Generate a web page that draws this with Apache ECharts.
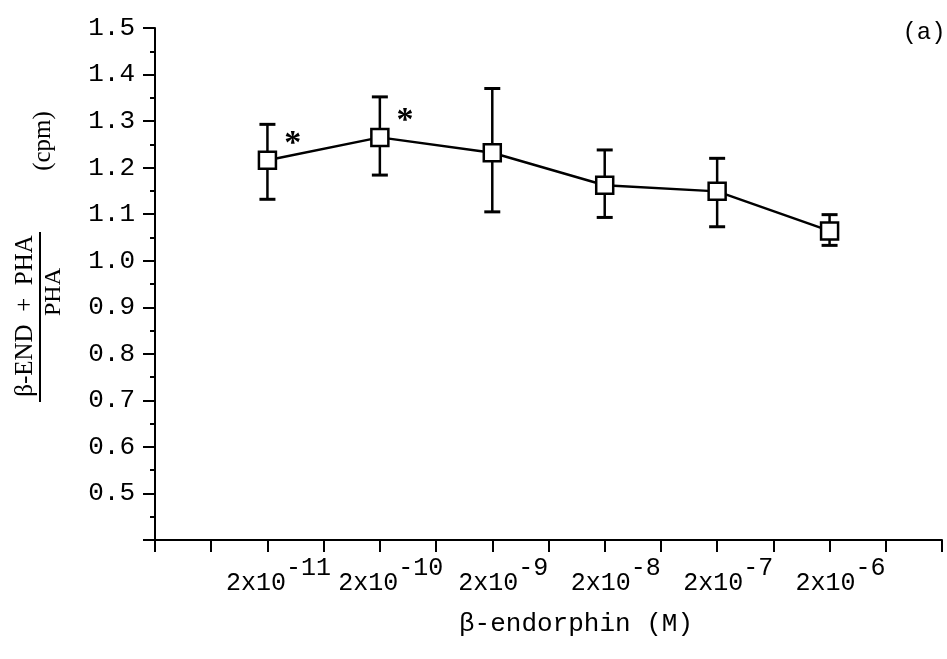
<!DOCTYPE html>
<html>
<head>
<meta charset="utf-8">
<script src="https://cdn.jsdelivr.net/npm/echarts@6/dist/echarts.min.js"></script>
<style>
  html, body { margin: 0; padding: 0; background: #fff; }
  #chart { width: 947px; height: 659px; }
</style>
</head>
<body>
<div id="chart"></div>
<script>
// concentrations (M), placed on every second tick of the x axis
const xPos = [2, 4, 6, 8, 10, 12];
const exponents = ['-11', '-10', '-9', '-8', '-7', '-6'];
const means = [1.216, 1.265, 1.232, 1.162, 1.149, 1.064];
const upper = [1.293, 1.352, 1.370, 1.238, 1.220, 1.099];
const lower = [1.132, 1.184, 1.105, 1.093, 1.073, 1.033];
const starred = [true, true, false, false, false, false];

const chart = echarts.init(document.getElementById('chart'));

const mono = 'Liberation Mono';
const serif = 'Liberation Serif';

const lineData = xPos.map((x, i) => [x, means[i]]);
const errData = xPos.map((x, i) => [x, lower[i], upper[i]]);

function renderErr(params, api) {
  const x = api.value(0);
  const lo = api.coord([x, api.value(1)]);
  const hi = api.coord([x, api.value(2)]);
  const cap = 8;
  const style = { stroke: '#000', lineWidth: 2.5 };
  const capStyle = { stroke: '#000', lineWidth: 3 };
  return {
    type: 'group',
    children: [
      { type: 'line', shape: { x1: lo[0], y1: lo[1], x2: hi[0], y2: hi[1] }, style: style },
      { type: 'line', shape: { x1: lo[0] - cap, y1: lo[1], x2: lo[0] + cap, y2: lo[1] }, style: capStyle },
      { type: 'line', shape: { x1: hi[0] - cap, y1: hi[1], x2: hi[0] + cap, y2: hi[1] }, style: capStyle }
    ]
  };
}

const options = {
  animation: false,
  backgroundColor: '#fff',
  grid: { left: 155, right: 5, top: 28, bottom: 119 },
  xAxis: {
    type: 'value',
    min: 0,
    max: 14,
    interval: 1,
    splitLine: { show: false },
    axisLine: { lineStyle: { color: '#000', width: 2 } },
    axisTick: { length: 12, lineStyle: { color: '#000', width: 2 } },
    axisLabel: {
      margin: 16,
      padding: [0, 0, 0, 22],
      formatter: function (v) {
        const i = xPos.indexOf(v);
        if (i < 0) return '';
        return '{b|2x10}{s|' + exponents[i] + '}';
      },
      rich: {
        b: { fontFamily: mono, fontSize: 25, color: '#000', lineHeight: 40, verticalAlign: 'bottom' },
        s: { fontFamily: mono, fontSize: 25, color: '#000', lineHeight: 24, verticalAlign: 'top' }
      }
    }
  },
  yAxis: {
    type: 'value',
    min: 0.4,
    max: 1.5,
    interval: 0.1,
    splitLine: { show: false },
    axisLine: { lineStyle: { color: '#000', width: 2 } },
    axisTick: { length: 12, lineStyle: { color: '#000', width: 2 } },
    minorTick: { show: true, splitNumber: 2, length: 5, lineStyle: { color: '#000', width: 2 } },
    axisLabel: {
      margin: 20,
      showMinLabel: false,
      fontFamily: mono,
      fontSize: 26,
      color: '#000',
      formatter: v => v.toFixed(1)
    }
  },
  series: [
    {
      type: 'custom',
      renderItem: renderErr,
      data: errData,
      encode: { x: 0, y: [1, 2] },
      z: 1
    },
    {
      type: 'line',
      data: lineData,
      symbol: 'rect',
      symbolSize: 17,
      showAllSymbol: true,
      lineStyle: { color: '#000', width: 2.5 },
      itemStyle: { color: '#fff', borderColor: '#000', borderWidth: 2.5 },
      label: {
        show: true,
        position: 'right',
        offset: [2, -16],
        fontFamily: serif,
        fontWeight: 'bold',
        fontSize: 34,
        color: '#000',
        formatter: p => starred[p.dataIndex] ? '*' : ''
      },
      z: 3
    }
  ],
  graphic: [
    {
      type: 'text', x: 25, y: 316, rotation: Math.PI / 2,
      style: { text: 'β-END  +  PHA', fontFamily: serif, fontSize: 25, fill: '#000', textAlign: 'center', textVerticalAlign: 'middle' }
    },
    {
      type: 'line', shape: { x1: 40, y1: 232, x2: 40, y2: 402 },
      style: { stroke: '#000', lineWidth: 2 }
    },
    {
      type: 'text', x: 54, y: 292, rotation: Math.PI / 2,
      style: { text: 'PHA', fontFamily: serif, fontSize: 24, fill: '#000', textAlign: 'center', textVerticalAlign: 'middle' }
    },
    {
      type: 'text', x: 43, y: 141, rotation: Math.PI / 2,
      style: { text: '(cpm)', fontFamily: serif, fontSize: 25, fill: '#000', textAlign: 'center', textVerticalAlign: 'middle' }
    },
    {
      type: 'text', x: 576, y: 624,
      style: { text: 'β-endorphin (M)', fontFamily: mono, fontSize: 26, fill: '#000', textAlign: 'center', textVerticalAlign: 'middle' }
    },
    {
      type: 'text', x: 924, y: 33,
      style: { text: '(a)', fontFamily: mono, fontSize: 24, fill: '#000', textAlign: 'center', textVerticalAlign: 'middle' }
    }
  ]
};

chart.setOption(options);
</script>
</body>
</html>
